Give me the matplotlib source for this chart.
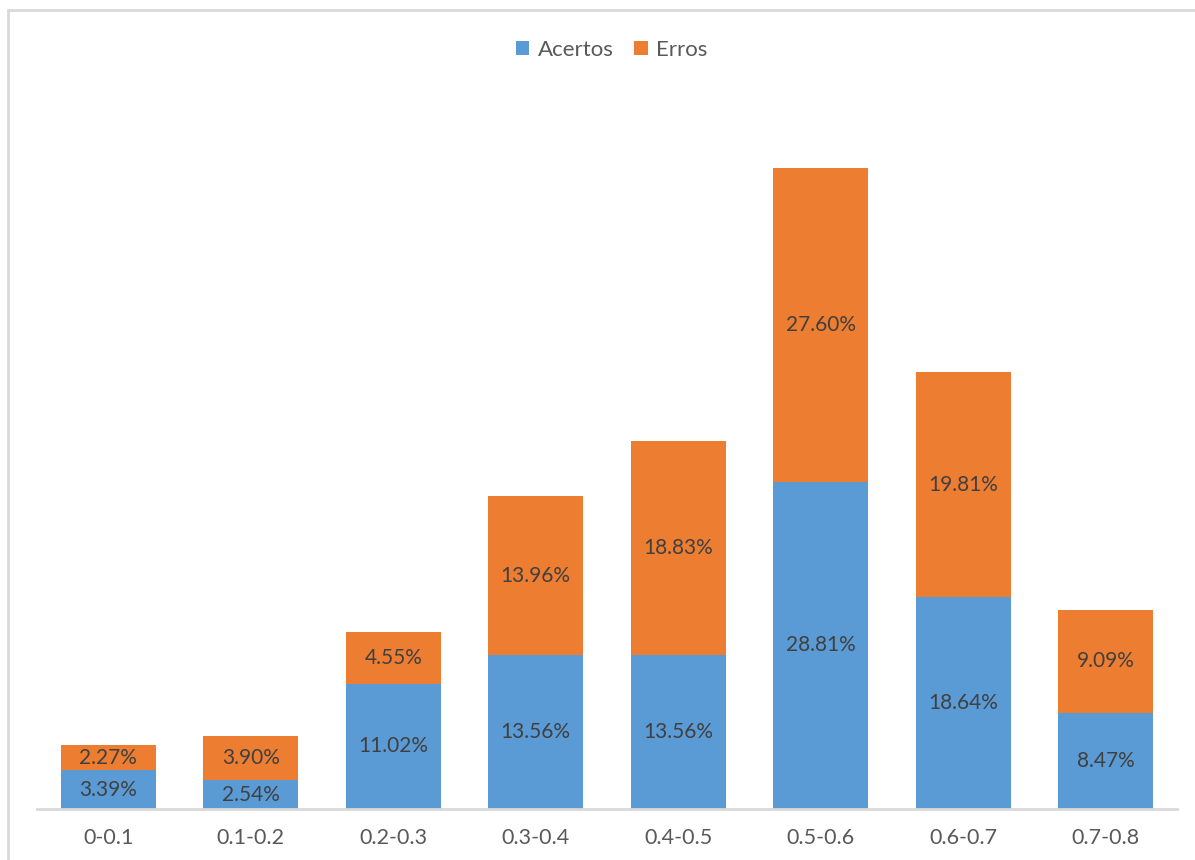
import matplotlib.pyplot as plt
import numpy as np

plt.rcParams['font.family'] = ['Lato', 'DejaVu Sans']

categories = ['0-0.1', '0.1-0.2', '0.2-0.3', '0.3-0.4', '0.4-0.5', '0.5-0.6', '0.6-0.7', '0.7-0.8']
acertos = [3.39, 2.54, 11.02, 13.56, 13.56, 28.81, 18.64, 8.47]
erros = [2.27, 3.90, 4.55, 13.96, 18.83, 27.60, 19.81, 9.09]

blue = '#5b9bd5'
orange = '#ed7d31'

fig = plt.figure(figsize=(11.95, 8.6), dpi=100)
W, H = 1195, 860
# plot area in pixels: left 37, right 1177, bottom 809, top 90
ax = fig.add_axes([37 / W, 1 - 809 / H, (1177 - 37) / W, (809 - 90) / H])

x = np.arange(len(categories))
b1 = ax.bar(x, acertos, width=0.666, color=blue, label='Acertos')
b2 = ax.bar(x, erros, width=0.666, bottom=acertos, color=orange, label='Erros')

for bars, vals, base in ((b1, acertos, [0] * len(acertos)), (b2, erros, acertos)):
    for xi, v, b0 in zip(x, vals, base):
        ax.text(xi, b0 + v / 2, f'{v:.2f}%', ha='center', va='center',
                fontsize=15, color='#404040')

ax.set_xlim(-0.5, len(categories) - 0.5)
ax.set_ylim(0, (809 - 90) / 11.36)
ax.set_xticks(x)
ax.set_xticklabels(categories, fontsize=15.5, color='#595959')
ax.tick_params(axis='x', length=0, pad=14)
ax.set_yticks([])
for side in ('top', 'right', 'left'):
    ax.spines[side].set_visible(False)
ax.spines['bottom'].set_color('#d9d9d9')
ax.spines['bottom'].set_linewidth(2)

leg = fig.legend(loc='center', bbox_to_anchor=(612 / W, 1 - 50 / H), ncol=2,
                 frameon=False, fontsize=16, handlelength=0.6, handleheight=0.6,
                 handletextpad=0.4, columnspacing=0.9)
for t in leg.get_texts():
    t.set_color('#595959')

# chart frame
fig.add_artist(plt.Rectangle((7.5 / W, -0.1), 1.2, 1 - 10.5 / H + 0.1,
                             transform=fig.transFigure, fill=False,
                             edgecolor='#d9d9d9', linewidth=2))

fig.savefig('out.png', dpi=100)
